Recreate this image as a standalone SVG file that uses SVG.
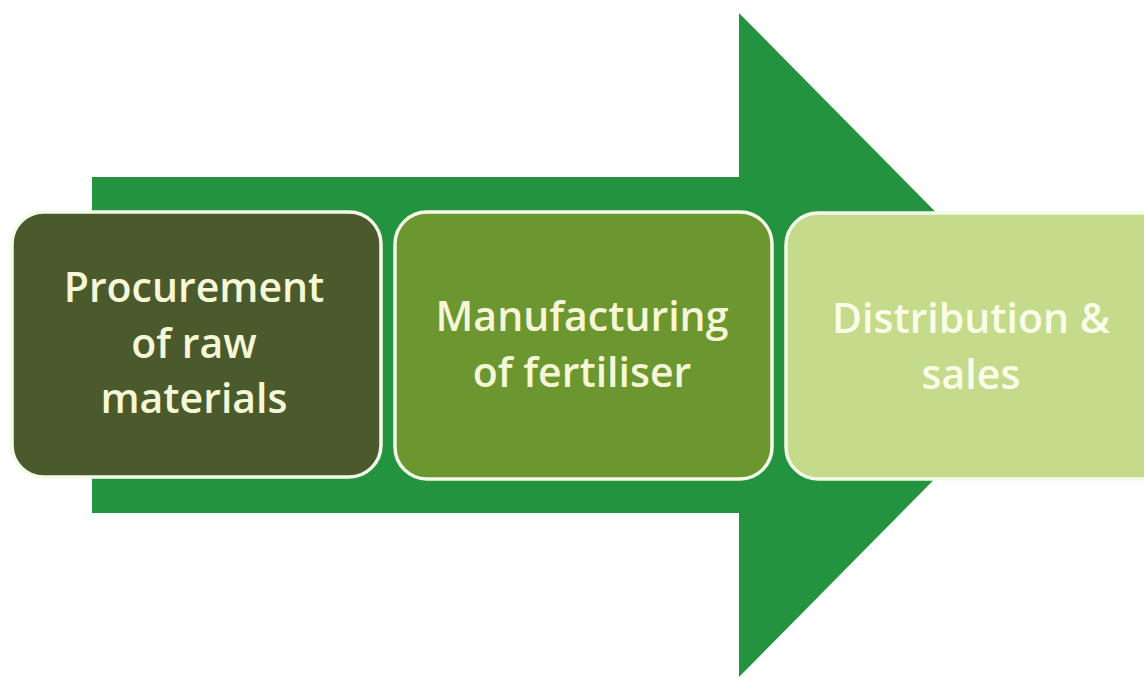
<svg xmlns="http://www.w3.org/2000/svg" width="1144" height="678" viewBox="0 0 1144 678">
  <style>
    .box { stroke: #f4fbe8; stroke-width: 3.5; }
    .label { font-family: "Open Sans", "Liberation Sans", sans-serif; font-size: 41px; font-weight: 600; text-anchor: middle; fill: #f6f7d6; }
    .light { fill: #fbfde9; }
  </style>
  <!-- big process arrow behind the stages -->
  <g id="connectors">
    <path id="flow-arrow" d="M92,177 H739 V13 L1067,345 L739,677 V513 H92 Z" fill="#23933f"/>
  </g>
  <g id="stage-procurement">
    <rect class="box" x="12" y="212" width="369" height="265" rx="32" fill="#4b5a2d"/>
    <text class="label" x="194"><tspan x="194" y="302">Procurement</tspan><tspan x="194" y="358">of raw</tspan><tspan x="194" y="413">materials</tspan></text>
  </g>
  <g id="stage-manufacturing">
    <rect class="box" x="395" y="212" width="377" height="267" rx="32" fill="#6c962f"/>
    <text class="label" x="582"><tspan x="582" y="331">Manufacturing</tspan><tspan x="582" y="387">of fertiliser</tspan></text>
  </g>
  <g id="stage-distribution">
    <rect class="box" x="786" y="213" width="390" height="266" rx="32" fill="#c3db8a"/>
    <text class="label light" x="971"><tspan x="971" y="333">Distribution &amp;</tspan><tspan x="971" y="389">sales</tspan></text>
  </g>
</svg>
